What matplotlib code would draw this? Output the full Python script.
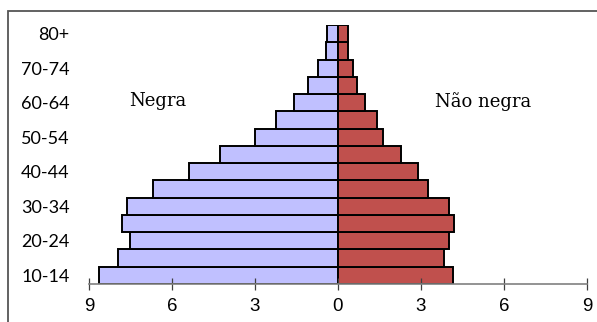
import numpy as np
import matplotlib.pyplot as plt
from matplotlib.patches import Rectangle

ages = ["10-14", "15-19", "20-24", "25-29", "30-34", "35-39", "40-44", "45-49",
        "50-54", "55-59", "60-64", "65-69", "70-74", "75-79", "80+"]
negra = [8.63, 7.94, 7.51, 7.80, 7.62, 6.68, 5.38, 4.26,
         3.00, 2.24, 1.59, 1.08, 0.72, 0.43, 0.40]
nao_negra = [4.15, 3.84, 4.01, 4.19, 4.00, 3.25, 2.89, 2.28,
             1.63, 1.41, 0.98, 0.69, 0.54, 0.36, 0.36]
xticks = [-9, -6, -3, 0, 3, 6, 9]

fig = plt.figure(figsize=(5.97, 3.22), dpi=100)
ax = fig.add_axes([0.149, 0.118, 0.834, 0.804])

y = np.arange(len(ages))
ax.barh(y, -np.array(negra), height=1.0, color="#C0C0FF", edgecolor="black", linewidth=1.4)
ax.barh(y, nao_negra, height=1.0, color="#C0504D", edgecolor="black", linewidth=1.4)

ax.set_xlim(-9, 9)
ax.set_ylim(-0.5, 14.5)
ax.set_xticks(xticks)
ax.set_xticklabels([str(abs(v)) for v in xticks], fontfamily="Liberation Sans", fontsize=13.5)
ax.set_yticks(y[::2])
ax.set_yticklabels(ages[::2], fontfamily="Lato", fontsize=13)

for s in ["top", "right", "left"]:
    ax.spines[s].set_visible(False)
ax.spines["bottom"].set_color("#808080")
ax.spines["bottom"].set_linewidth(1.2)
ax.tick_params(axis="x", direction="inout", length=8, width=0.9, color="#404040", pad=6)
ax.tick_params(axis="y", length=0, pad=14)

ax.text(-6.5, 10.1, "Negra", fontfamily="DejaVu Serif", fontsize=13, ha="center", va="center")
ax.text(5.24, 10.1, "Não negra", fontfamily="DejaVu Serif", fontsize=13, ha="center", va="center")

# chart border (runs off the right and bottom edges)
fig.patches.append(Rectangle((8 / 597, -0.1), 1.2, 1.1 - 11 / 322,
                             transform=fig.transFigure, fill=False,
                             edgecolor="#555555", linewidth=1.3))

fig.savefig("out.png", dpi=100)
